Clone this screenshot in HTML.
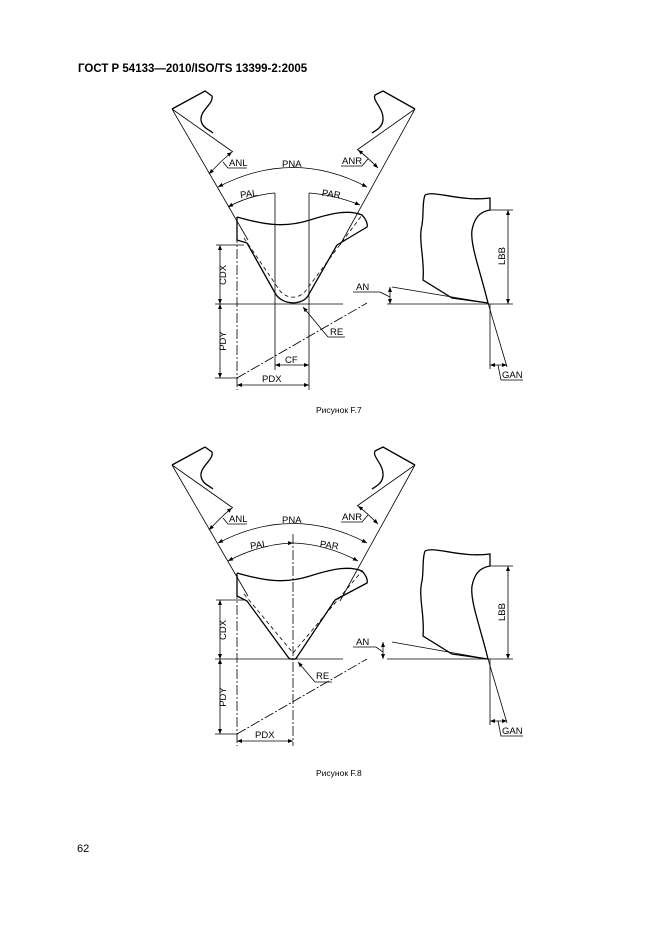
<!DOCTYPE html>
<html><head><meta charset="utf-8"><style>
html,body{margin:0;padding:0;background:#fff;}
svg{display:block}
text{font-family:"Liberation Sans",Arial,sans-serif;fill:#000}
</style></head><body>
<svg width="661" height="935" viewBox="0 0 661 935" xmlns="http://www.w3.org/2000/svg">
<defs>
<marker id="a" viewBox="0 0 10 10" refX="10" refY="5" markerWidth="7" markerHeight="5" orient="auto-start-reverse" markerUnits="userSpaceOnUse"><path d="M0,1 L10,5 L0,9 z" fill="#000"/></marker>
</defs>
<text x="78" y="72" font-size="11.5" font-weight="bold">ГОСТ Р 54133—2010/ISO/TS 13399-2:2005</text>

<!-- FIG F.7 -->
<g stroke="#000" fill="none" stroke-width="0.8">
 <path d="M172,109 L205,91 L212,96 C214,104 200,110 201,120 C202,128 210,130 213,133" stroke-width="1.3"/>
 <line x1="172" y1="109" x2="233" y2="152"/>
 <line x1="172" y1="109" x2="248" y2="240"/>
 <path d="M415,109 L383,91 L375,95 C372,101 384,108 383,120 C382,128 376,130 372,133" stroke-width="1.3"/>
 <line x1="415" y1="109" x2="357" y2="150"/>
 <line x1="415" y1="109" x2="340" y2="245"/>
 <path d="M209,174 Q222,160 232,152" marker-start="url(#a)" marker-end="url(#a)"/>
 <path d="M378,168 Q366,156 358,150" marker-start="url(#a)" marker-end="url(#a)"/>
 <path d="M218,187 Q293,148 367,187" marker-start="url(#a)" marker-end="url(#a)"/>
 <path d="M228,207 Q250,195 275,193" marker-start="url(#a)"/>
 <path d="M360,205 Q335,195 309,193" marker-start="url(#a)"/>
 <path d="M237,217 C265,225 285,228 310,220 C335,212 350,210 362,215 C366,219 368,224 367,227 L337,245" stroke-width="1.3"/>
 <path d="M237,217 L237,240 L247,243 L275,293 C282,306 304,306 309,294 L337,245" stroke-width="1.3"/>
 <path d="M244,238 L278,288 C285,300 300,300 307,289 L362,215" stroke-dasharray="4,3"/>
 <line x1="215" y1="304" x2="343" y2="304"/>
 <line x1="387" y1="304" x2="513" y2="304"/>
 <line x1="216" y1="245" x2="244" y2="245"/>
 <line x1="220" y1="245" x2="220" y2="304" marker-start="url(#a)" marker-end="url(#a)"/>
 <line x1="220" y1="304" x2="220" y2="378" marker-start="url(#a)" marker-end="url(#a)"/>
 <line x1="215" y1="378" x2="238" y2="378"/>
 <line x1="237" y1="217" x2="237" y2="390" stroke-dasharray="10,2,2,2"/>
 <line x1="275" y1="193" x2="275" y2="370"/>
 <line x1="309" y1="193" x2="309" y2="390"/>
 <line x1="275" y1="365" x2="309" y2="365" marker-start="url(#a)" marker-end="url(#a)"/>
 <line x1="237" y1="385" x2="309" y2="385" marker-start="url(#a)" marker-end="url(#a)"/>
 <line x1="237" y1="378" x2="367" y2="303" stroke-dasharray="10,2,2,2"/>
 <path d="M328,337 L303,307" marker-end="url(#a)"/>
 <line x1="328" y1="337" x2="345" y2="337"/>
 <path d="M223,162 L228,168 L247,168"/>
 <path d="M341,166 L362,166 L368,159"/>
 <path d="M425,195 C435,190 460,202 490,198 L490,210 C478,212 474,220 472,230 C470,245 480,270 488,303 L452,298 L423,280 C425,260 418,240 422,225 C424,212 422,203 425,195" stroke-width="1.3"/>
 <line x1="392" y1="287" x2="488" y2="303"/>
 <line x1="390" y1="287" x2="390" y2="304" marker-start="url(#a)" marker-end="url(#a)"/>
 <path d="M353,292 L380,292 L390,297"/>
 <line x1="490" y1="210" x2="513" y2="210"/>
 <line x1="508" y1="210" x2="508" y2="304" marker-start="url(#a)" marker-end="url(#a)"/>
 <line x1="488" y1="303" x2="507" y2="367"/>
 <line x1="490" y1="304" x2="490" y2="369"/>
 <line x1="490" y1="365" x2="507" y2="365" marker-start="url(#a)" marker-end="url(#a)"/>
 <path d="M498,365 L501,380 L523,380"/>
</g>
<g font-size="9.5">
 <text x="229" y="166">ANL</text>
 <text x="282" y="167">PNA</text>
 <text x="342" y="164">ANR</text>
 <text x="240" y="197" transform="rotate(-8 249 193)">PAL</text>
 <text x="322" y="197" transform="rotate(8 330 193)">PAR</text>
 <text x="226" y="275" transform="rotate(-90 226 275)" text-anchor="middle">CDX</text>
 <text x="226" y="341" transform="rotate(-90 226 341)" text-anchor="middle">PDY</text>
 <text x="285" y="363">CF</text>
 <text x="262" y="382">PDX</text>
 <text x="330" y="335">RE</text>
 <text x="356" y="290">AN</text>
 <text x="505" y="256" transform="rotate(-90 505 256)" text-anchor="middle">LBB</text>
 <text x="502" y="378">GAN</text>
</g>
<text x="316" y="413" font-size="8.5">Рисунок F.7</text>

<!-- FIG F.8 -->
<g transform="translate(0,356)">
<g stroke="#000" fill="none" stroke-width="0.8">
 <path d="M172,109 L205,91 L212,96 C214,104 200,110 201,120 C202,128 210,130 213,133" stroke-width="1.3"/>
 <line x1="172" y1="109" x2="233" y2="152"/>
 <line x1="172" y1="109" x2="248" y2="240"/>
 <path d="M415,109 L383,91 L375,95 C372,101 384,108 383,120 C382,128 376,130 372,133" stroke-width="1.3"/>
 <line x1="415" y1="109" x2="357" y2="150"/>
 <line x1="415" y1="109" x2="340" y2="245"/>
 <path d="M209,174 Q222,160 232,152" marker-start="url(#a)" marker-end="url(#a)"/>
 <path d="M378,168 Q366,156 358,150" marker-start="url(#a)" marker-end="url(#a)"/>
 <path d="M218,187 Q293,148 367,187" marker-start="url(#a)" marker-end="url(#a)"/>
 <path d="M228,205 Q260,188 293,187" marker-start="url(#a)" marker-end="url(#a)"/>
 <path d="M358,205 Q326,188 293,187" marker-start="url(#a)"/>
 <path d="M237,217 C265,225 285,228 310,220 C335,212 350,210 362,215 C366,219 368,224 367,227 L335,244" stroke-width="1.3"/>
 <path d="M237,217 L237,240 L247,245 L288,301 C290,304 296,304 297,301 L335,244" stroke-width="1.3"/>
 <path d="M244,238 L293,297 L362,215" stroke-dasharray="4,3"/>
 <line x1="215" y1="303" x2="343" y2="303"/>
 <line x1="387" y1="303" x2="513" y2="303"/>
 <line x1="216" y1="244" x2="244" y2="244"/>
 <line x1="220" y1="244" x2="220" y2="303" marker-start="url(#a)" marker-end="url(#a)"/>
 <line x1="220" y1="303" x2="220" y2="378" marker-start="url(#a)" marker-end="url(#a)"/>
 <line x1="215" y1="378" x2="238" y2="378"/>
 <line x1="237" y1="217" x2="237" y2="390" stroke-dasharray="10,2,2,2"/>
 <line x1="293" y1="178" x2="293" y2="390" stroke-dasharray="10,2,2,2"/>
 <line x1="237" y1="385" x2="293" y2="385" marker-start="url(#a)" marker-end="url(#a)"/>
 <line x1="237" y1="378" x2="367" y2="303" stroke-dasharray="10,2,2,2"/>
 <path d="M315,326 L298,306" marker-end="url(#a)"/>
 <line x1="315" y1="326" x2="332" y2="326"/>
 <path d="M223,162 L228,168 L247,168"/>
 <path d="M341,166 L362,166 L368,159"/>
 <path d="M425,195 C435,190 460,202 490,198 L490,210 C478,212 474,220 472,230 C470,245 480,270 488,303 L452,298 L423,280 C425,260 418,240 422,225 C424,212 422,203 425,195" stroke-width="1.3"/>
 <line x1="392" y1="286" x2="488" y2="303"/>
 <line x1="383" y1="286" x2="383" y2="303" marker-start="url(#a)" marker-end="url(#a)"/>
 <path d="M353,291 L376,291 L383,296"/>
 <line x1="490" y1="210" x2="513" y2="210"/>
 <line x1="508" y1="210" x2="508" y2="303" marker-start="url(#a)" marker-end="url(#a)"/>
 <line x1="488" y1="303" x2="507" y2="367"/>
 <line x1="490" y1="303" x2="490" y2="369"/>
 <line x1="490" y1="365" x2="507" y2="365" marker-start="url(#a)" marker-end="url(#a)"/>
 <path d="M498,365 L501,380 L523,380"/>
</g>
<g font-size="9.5">
 <text x="229" y="166">ANL</text>
 <text x="282" y="167">PNA</text>
 <text x="342" y="164">ANR</text>
 <text x="250" y="192" transform="rotate(-8 259 188)">PAL</text>
 <text x="320" y="192" transform="rotate(8 327 188)">PAR</text>
 <text x="226" y="274" transform="rotate(-90 226 274)" text-anchor="middle">CDX</text>
 <text x="226" y="341" transform="rotate(-90 226 341)" text-anchor="middle">PDY</text>
 <text x="255" y="382">PDX</text>
 <text x="316" y="323">RE</text>
 <text x="356" y="289">AN</text>
 <text x="505" y="256" transform="rotate(-90 505 256)" text-anchor="middle">LBB</text>
 <text x="502" y="378">GAN</text>
</g>
</g>
<text x="316" y="776" font-size="8.5">Рисунок F.8</text>
<text x="77" y="852" font-size="11">62</text>
</svg>
</body></html>
